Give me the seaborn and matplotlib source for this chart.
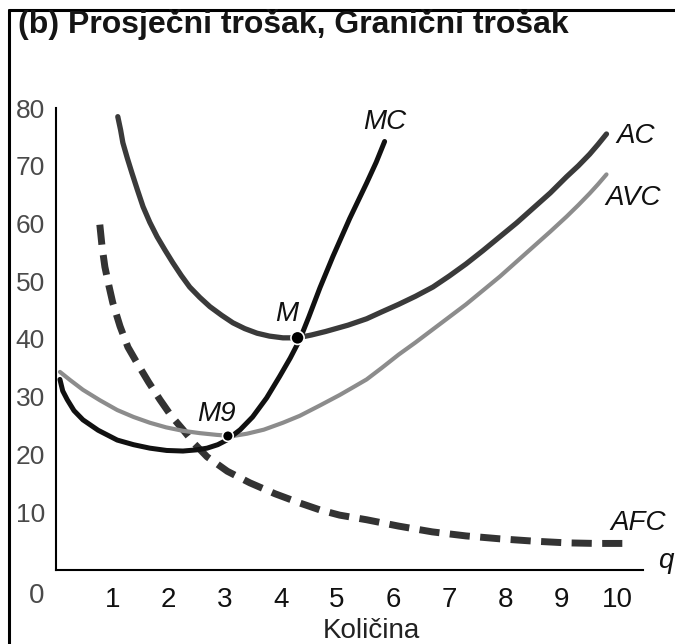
import matplotlib
matplotlib.use("Agg")
import matplotlib.pyplot as plt
import seaborn as sns

# values (q, cost)
ac_q = [1.10, 1.15, 1.19, 1.27, 1.35, 1.45, 1.55, 1.67, 1.80, 1.94, 2.08, 2.23, 2.38, 2.56, 2.74, 2.95,
        3.15, 3.36, 3.58, 3.80, 4.04, 4.30, 4.55, 4.80, 5.20, 5.53, 5.80, 6.10, 6.40, 6.71, 7.00, 7.30,
        7.60, 7.90, 8.20, 8.50, 8.80, 9.09, 9.30, 9.50, 9.65, 9.80]
ac_c = [78.5, 76.2, 74.0, 71.3, 68.8, 65.8, 62.9, 60.2, 57.7, 55.4, 53.2, 51.0, 49.0, 47.2, 45.6, 44.1,
        42.8, 41.8, 41.0, 40.5, 40.2, 40.2, 40.7, 41.3, 42.4, 43.5, 44.7, 46.0, 47.4, 49.0, 50.9, 53.0,
        55.3, 57.7, 60.1, 62.7, 65.3, 68.1, 70.0, 72.0, 73.7, 75.5]

avc_q = [0.07, 0.25, 0.48, 0.78, 1.09, 1.38, 1.67, 1.96, 2.26, 2.56, 2.86, 3.15, 3.40, 3.70, 4.04, 4.34,
         4.70, 5.05, 5.30, 5.53, 5.80, 6.10, 6.40, 6.70, 7.00, 7.30, 7.60, 7.90, 8.20, 8.50, 8.80, 9.09,
         9.30, 9.50, 9.65, 9.80]
avc_c = [34.3, 32.9, 31.2, 29.4, 27.7, 26.5, 25.5, 24.7, 24.1, 23.7, 23.4, 23.2, 23.6, 24.3, 25.5, 26.7,
         28.5, 30.3, 31.7, 33.0, 35.0, 37.3, 39.4, 41.6, 43.8, 46.0, 48.4, 50.8, 53.4, 56.0, 58.6, 61.2,
         63.2, 65.2, 66.8, 68.5]

mc_q = [0.07, 0.12, 0.20, 0.32, 0.48, 0.75, 1.09, 1.38, 1.67, 1.97, 2.26, 2.50, 2.69, 2.88, 3.04, 3.28,
        3.50, 3.75, 3.98, 4.17, 4.34, 4.50, 4.70, 4.93, 5.23, 5.53, 5.70, 5.85]
mc_c = [33.0, 31.0, 29.5, 27.6, 26.0, 24.2, 22.5, 21.7, 21.1, 20.7, 20.6, 20.8, 21.1, 21.7, 22.5, 24.3,
        26.5, 29.8, 33.5, 36.7, 39.9, 43.8, 48.9, 54.3, 60.9, 67.0, 70.6, 74.2]

afc_q = [0.78, 0.82, 0.87, 0.94, 1.01, 1.14, 1.28, 1.44, 1.65, 1.85, 2.05, 2.26, 2.47, 2.69, 3.05, 3.45,
         3.90, 4.34, 4.70, 5.05, 5.53, 6.10, 6.70, 7.30, 7.90, 8.50, 9.09, 9.60, 10.10]
afc_c = [59.8, 56.0, 52.5, 49.3, 46.3, 42.2, 38.6, 35.9, 32.5, 29.5, 26.7, 24.3, 21.8, 19.6, 17.1, 15.1,
         13.2, 11.6, 10.4, 9.5, 8.7, 7.6, 6.6, 5.9, 5.4, 5.0, 4.7, 4.6, 4.6]

point_q = [4.30, 3.06]
point_c = [40.2, 23.2]
point_names = ["M", "M9"]

x_ticks = [1, 2, 3, 4, 5, 6, 7, 8, 9, 10]
y_ticks = [10, 20, 30, 40, 50, 60, 70, 80]

sns.set_theme(style="white")
plt.rcParams["font.family"] = ["Liberation Sans", "DejaVu Sans"]

fig = plt.figure(figsize=(6.75, 6.44), dpi=100)
ax = fig.add_axes([56 / 675, 74 / 644, 587 / 675, 462 / 644])

sns.lineplot(x=afc_q, y=afc_c, sort=False, estimator=None, ax=ax, color="#333333",
             linewidth=5, linestyle=(0, (2.9, 1.5)), dash_capstyle="butt")
sns.lineplot(x=avc_q, y=avc_c, sort=False, estimator=None, ax=ax, color="#8c8c8c", linewidth=3)
sns.lineplot(x=ac_q, y=ac_c, sort=False, estimator=None, ax=ax, color="#3a3a3a", linewidth=3.8)
sns.lineplot(x=mc_q, y=mc_c, sort=False, estimator=None, ax=ax, color="#111111", linewidth=3.6)
sns.scatterplot(x=point_q, y=point_c, ax=ax, color="black", s=[90, 60], edgecolor="white",
                linewidth=1.2, zorder=5)

ax.set_xlim(0, 10.45)
ax.set_ylim(0, 80)
ax.set_xticks(x_ticks)
ax.set_yticks(y_ticks)
ax.set_xticklabels([str(v) for v in x_ticks], fontsize=20, color="#111111")
ax.set_yticklabels([str(v) for v in y_ticks], fontsize=19, color="#4a4a4a")
ax.tick_params(axis="both", direction="in", length=9, width=1.5, color="black")
ax.tick_params(axis="x", pad=12)
ax.tick_params(axis="y", pad=8)
for side in ["top", "right"]:
    ax.spines[side].set_visible(False)
for side in ["left", "bottom"]:
    ax.spines[side].set_linewidth(1.5)
    ax.spines[side].set_color("black")

ax.set_xlabel("Količina", fontsize=20, color="#222222")
ax.xaxis.set_label_coords(0.538, -0.103)
ax.set_ylabel("")

lab = dict(fontsize=20, style="italic", color="#111111", ha="center", va="center")
ax.text(5.85, 77.6, "MC", **lab)
ax.text(10.32, 75.2, "AC", **lab)
ax.text(10.27, 64.5, "AVC", **lab)
ax.text(10.36, 8.1, "AFC", **lab)
ax.text(4.11, 44.4, point_names[0], **lab)
ax.text(2.86, 27.0, point_names[1], **lab)
ax.text(10.85, 1.5, "q", clip_on=False, **lab)
ax.text(-0.34, -4.5, "0", ha="center", va="center", fontsize=20, color="#4a4a4a", clip_on=False)

fig.text(18 / 675, 1 - 24 / 644, "(b) Prosječni trošak, Granični trošak", fontsize=23,
         fontweight="bold", color="#151515", ha="left", va="center")

# scan frame: left and top edges only
fig.add_artist(plt.Line2D([9 / 675, 9 / 675], [0, 1 - 10 / 644], color="black", linewidth=2.2))
fig.add_artist(plt.Line2D([9 / 675, 1], [1 - 10 / 644, 1 - 10 / 644], color="black", linewidth=2.2))

fig.savefig("out.png", dpi=100)
